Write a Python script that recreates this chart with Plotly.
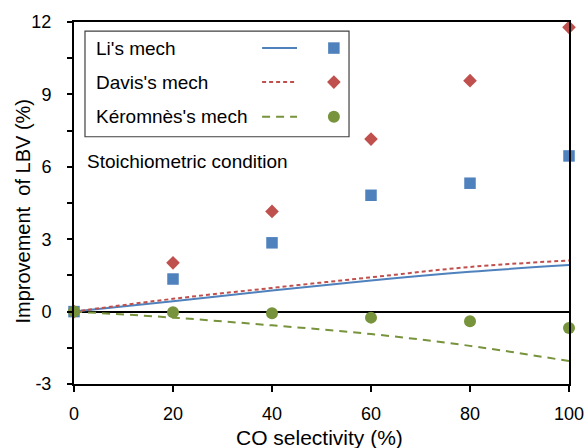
import plotly.graph_objects as go

# ---- data ----
co_sel = [0, 20, 40, 60, 80, 100]

li_exp = [0, 1.35, 2.85, 4.82, 5.32, 6.45]
davis_exp = [0, 2.02, 4.15, 7.15, 9.57, 11.78]
keromnes_exp = [0, -0.03, -0.07, -0.25, -0.4, -0.68]

li_line = [0, 0.43, 0.87, 1.29, 1.65, 1.93]
davis_line = [0, 0.53, 0.98, 1.42, 1.85, 2.12]
keromnes_line = [0, -0.25, -0.57, -0.93, -1.42, -2.05]

series_names = ["Li's mech", "Davis's mech", "Kéromnès's mech"]
x_ticks = [0, 20, 40, 60, 80, 100]
y_ticks = [-3, 0, 3, 6, 9, 12]
y_tick_labels = ["-3", "0", "3", "6", "9", "12"]
x_title = "CO selectivity (%)"
y_title = "Improvement  of LBV (%)"

BLUE = "#4F81BD"
RED = "#C0504D"
GREEN = "#77933C"
FONT = "Liberation Sans, Arial, sans-serif"

SQ = dict(symbol="square", size=11.5, color=BLUE)
DI = dict(symbol="diamond", size=10.5, color=RED)
CI = dict(symbol="circle", size=12, color=GREEN)

fig = go.Figure()

# model lines
fig.add_trace(go.Scatter(x=co_sel, y=li_line, mode="lines", line=dict(color=BLUE, width=2, shape="spline"), showlegend=False))
fig.add_trace(go.Scatter(x=co_sel, y=davis_line, mode="lines", line=dict(color=RED, width=2, dash="4px,3px", shape="spline"), showlegend=False))
fig.add_trace(go.Scatter(x=co_sel, y=keromnes_line, mode="lines", line=dict(color=GREEN, width=2, dash="8px,6px", shape="spline"), showlegend=False))

# markers
fig.add_trace(go.Scatter(x=co_sel, y=li_exp, mode="markers", marker=SQ, showlegend=False, cliponaxis=False))
fig.add_trace(go.Scatter(x=co_sel, y=davis_exp, mode="markers", marker=DI, showlegend=False, cliponaxis=False))
fig.add_trace(go.Scatter(x=co_sel, y=keromnes_exp, mode="markers", marker=CI, showlegend=False, cliponaxis=False))

# ---- manual legend (on a hidden 0..1 overlay axis) ----
row_y = [0.928, 0.834, 0.738]
line_styles = [dict(color=BLUE, width=2), dict(color=RED, width=2, dash="4px,3px"), dict(color=GREEN, width=2, dash="8px,6px")]
marker_styles = [SQ, DI, CI]
for ry, ls, ms in zip(row_y, line_styles, marker_styles):
    fig.add_trace(go.Scatter(x=[0.380, 0.4505], y=[ry, ry], mode="lines", line=ls, xaxis="x2", yaxis="y2", showlegend=False))
    fig.add_trace(go.Scatter(x=[0.525], y=[ry], mode="markers", marker=ms, xaxis="x2", yaxis="y2", showlegend=False))

fig.add_shape(type="rect", xref="paper", yref="paper", x0=0.0222, x1=0.5556, y0=0.683, y1=0.975,
              line=dict(color="#404040", width=1.2), fillcolor="rgba(0,0,0,0)")

for name, ry in zip(series_names, row_y):
    fig.add_annotation(text=name, xref="paper", yref="paper", x=0.040, y=ry, xanchor="left", yanchor="middle",
                       showarrow=False, font=dict(family=FONT, size=19, color="black"))

fig.add_annotation(text="Stoichiometric condition", xref="paper", yref="paper", x=0.022, y=0.616,
                   xanchor="left", yanchor="middle", showarrow=False, font=dict(family=FONT, size=19, color="black"))

# axis titles
fig.add_annotation(text=x_title, xref="paper", yref="paper", x=0.495, y=-0.149, xanchor="center", yanchor="middle",
                   showarrow=False, font=dict(family=FONT, size=21, color="black"))
fig.add_annotation(text=y_title, xref="paper", yref="paper", x=-0.105, y=0.4765, xanchor="center", yanchor="middle",
                   textangle=-90, showarrow=False, font=dict(family=FONT, size=20, color="black"))

fig.update_layout(
    width=587, height=448,
    margin=dict(l=74, r=18, t=22, b=64),
    paper_bgcolor="white", plot_bgcolor="white",
    font=dict(family=FONT, size=18, color="black"),
    xaxis=dict(range=[0, 100], tickvals=x_ticks, ticks="outside", ticklen=6, tickwidth=1.5, tickcolor="black",
               showline=True, linecolor="black", linewidth=2, mirror=True, showgrid=False, zeroline=False,
               automargin=False, ticklabelstandoff=6, tickfont=dict(size=18)),
    yaxis=dict(range=[-3, 12], tickvals=y_ticks, ticktext=y_tick_labels, ticks="outside", ticklen=5, tickwidth=1.5, tickcolor="black",
               showline=True, linecolor="black", linewidth=2, mirror=True, showgrid=False,
               zeroline=True, zerolinecolor="black", zerolinewidth=2, automargin=False, ticklabelstandoff=12,
               minor=dict(tickvals=[-1.5, 1.5, 4.5, 7.5, 10.5], ticks="outside", ticklen=5, tickwidth=1.5, tickcolor="black"),
               tickfont=dict(size=18)),
    xaxis2=dict(range=[0, 1], overlaying="x", visible=False),
    yaxis2=dict(range=[0, 1], overlaying="y", visible=False),
)

fig.write_html("out.html", config={"displayModeBar": False},
               post_script="document.body.style.margin='0';document.documentElement.style.overflow='hidden';")
